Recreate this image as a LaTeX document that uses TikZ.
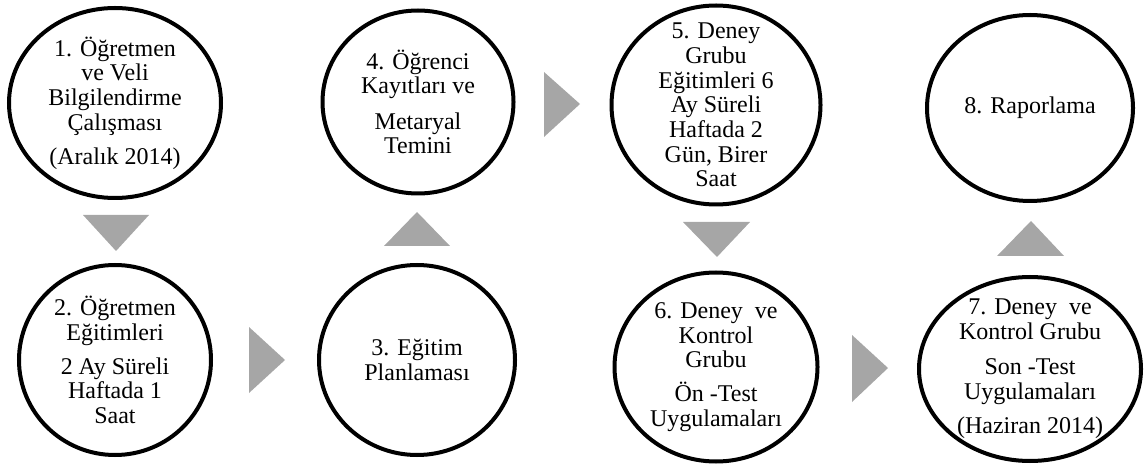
\documentclass[tikz,border=0pt]{standalone}
\usepackage{fontspec}
\setmainfont{Liberation Serif}
\usetikzlibrary{
    shapes.geometric
}
\definecolor{arrowgray}{HTML}{A6A6A6}
\tikzset{
  stage/.style n args={2}{
    draw,
    ellipse,
    line width=3pt,
    inner sep=0pt,
    minimum width=#1,
    minimum height=#2
  },
  txt/.style={
    align=center,
    inner sep=0pt,
    font=\fontsize{18pt}{18.5pt}\selectfont
  },
  blockarrow/.style={
    arrowgray,
    line width=0pt
  }
}

\begin{document}
\begin{tikzpicture}[x=0.75pt,y=-0.75pt]

    \useasboundingbox (0,0) rectangle (1144,466);

    %-------------------------
    % ust sira
    %-------------------------
    \node[stage={159pt}{142.5pt},
      label={[txt]center:{1. Öğretmen\\ve Veli\\Bilgilendirme\\Çalışması\\[7pt](Aralık 2014)}}]
      (s1) at (115,103) {};
    \node[stage={143.25pt}{137.25pt},
      label={[txt]center:{4. Öğrenci\\Kayıtları ve\\[8pt]Metaryal\\Temini}}]
      (s4) at (418,102) {};
    \node[stage={156.75pt}{149.25pt},
      label={[txt]center:{5. Deney\\Grubu\\Eğitimleri 6\\Ay Süreli\\Haftada 2\\Gün, Birer\\Saat}}]
      (s5) at (716,105) {};
    \node[stage={154.5pt}{139.5pt},
      label={[txt]center:{8. Raporlama}}]
      (s8) at (1030,108) {};

    %-------------------------
    % alt sira
    %-------------------------
    \node[stage={144pt}{142.5pt},
      label={[txt]center:{2. Öğretmen\\Eğitimleri\\[7pt]2 Ay Süreli\\Haftada 1\\Saat}}]
      (s2) at (115,360) {};
    \node[stage={147pt}{142.5pt},
      label={[txt]center:{3. Eğitim\\Planlaması}}]
      (s3) at (417,360) {};
    \node[stage={152.25pt}{141.75pt},
      label={[txt]center:{6. Deney~ ve\\Kontrol\\Grubu\\[7pt]Ön -Test\\Uygulamaları}}]
      (s6) at (716,367) {};
    \node[stage={166.5pt}{138pt},
      label={[txt]center:{7. Deney~ ve\\Kontrol Grubu\\[8pt]Son -Test\\Uygulamaları\\[7pt](Haziran 2014)}}]
      (s7) at (1030,369) {};

    %-------------------------
    % oklar
    %-------------------------
    \fill[blockarrow] (83,215) -- (149,215) -- (116,251) -- cycle;
    \fill[blockarrow] (249,327) -- (249,393) -- (285,360) -- cycle;
    \fill[blockarrow] (384,246) -- (450,246) -- (417,212) -- cycle;
    \fill[blockarrow] (544,72) -- (544,137) -- (580,104) -- cycle;
    \fill[blockarrow] (683,222) -- (750,222) -- (717,257) -- cycle;
    \fill[blockarrow] (852,335) -- (852,402) -- (888,368) -- cycle;
    \fill[blockarrow] (997,256) -- (1064,256) -- (1031,221) -- cycle;

\end{tikzpicture}
\end{document}
